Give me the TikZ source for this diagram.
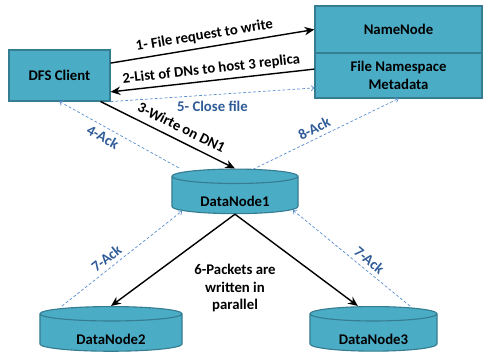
\documentclass[tikz,border=0pt]{standalone}
\usepackage{fontspec}
\setmainfont{Carlito}
\usetikzlibrary{arrows.meta}
\usetikzlibrary{shapes.geometric}
\definecolor{boxFill}{HTML}{4BACC6}
\definecolor{boxBorder}{HTML}{357D91}
\definecolor{ackLine}{HTML}{5B8FD0}
\definecolor{ackText}{HTML}{2F5C98}

\begin{document}
\begin{tikzpicture}[x = 0.025cm, y = -0.025cm, font=\bfseries\fontsize{10.5}{12.5}\selectfont]
	\tikzstyle{boxStyle}=[rectangle, draw = boxBorder, fill = boxFill, line width = 0.8pt, inner sep = 2pt]
	\tikzstyle{diskStyle}=[cylinder, shape border rotate = 90, shape aspect = 0.2, draw = boxBorder, fill = boxFill, line width = 0.8pt, inner sep = 1pt, text height = 15pt, text depth = 0pt]
	\tikzstyle{reqStyle}=[-{Stealth[length = 7pt, width = 6pt]}, line width = 1pt]
	\tikzstyle{ackStyle}=[-{To[length = 2.5pt, width = 4pt]}, dashed, dash pattern = on 2pt off 1.5pt, draw = ackLine, line width = 0.5pt]
	\tikzstyle{ackLabel}=[text = ackText, sloped, inner sep = 3pt]
	\useasboundingbox (0,0) rectangle (483,355);
	\node[boxStyle, minimum width = 2.525cm, minimum height = 1.275cm] (client) at (59.5,75.5) {DFS Client};
	\node[boxStyle, minimum width = 4.175cm, minimum height = 1.175cm] (namenode) at (398.5,29.5) {NameNode};
	\node[boxStyle, minimum width = 4.175cm, minimum height = 1.125cm, align = center] (meta) at (398.5,75.5) {File Namespace\\Metadata};
	\node[diskStyle, minimum width = 3.15cm, minimum height = 1.05cm] (dn1) at (235,196) {DataNode1};
	\node[diskStyle, minimum width = 3.55cm, minimum height = 1.025cm] (dn2) at (111,333.5) {DataNode2};
	\node[diskStyle, minimum width = 3.175cm, minimum height = 1.025cm] (dn3) at (373.5,333.5) {DataNode3};
	\draw[reqStyle] ([yshift = 0.31cm]client.east) -- node[above, sloped, inner sep = 3.5pt, pos = 0.47] {1- File request to write} (namenode.west);
	\draw[reqStyle, {Stealth[length = 7pt, width = 6pt]}-] ([yshift = -0.41cm]client.east) -- node[above, sloped, inner sep = 3pt] {2-List of DNs to host 3 replica} ([yshift = 0.16cm]meta.west);
	\draw[ackStyle] (client.south east) -- node[below, text = ackText, inner sep = 4pt] {5- Close file} ([yshift = -0.31cm]meta.west);
	\draw[reqStyle] ([xshift = -0.25cm]client.south east) -- node[above, sloped, inner sep = 5pt, pos = 0.56] {3-Wirte on DN1} (dn1.north);
	\draw[ackStyle, {To[length = 2.5pt, width = 4pt]}-] (client.south) -- node[ackLabel, below, pos = 0.4] {4-Ack} ([xshift = -1.375cm]dn1.north);
	\draw[ackStyle] ([xshift = 0.45cm, yshift = -0.02cm]dn1.north) -- node[ackLabel, above, pos = 0.45] {8-Ack} (meta.south);
	\draw[reqStyle] (dn1.south) -- (dn2.north);
	\draw[reqStyle] (dn1.south) -- ([xshift = -0.39cm]dn3.north);
	\node[align = center] (packets) at (235,288) {6-Packets are\\written in\\parallel};
	\draw[ackStyle] ([xshift = -1.225cm]dn2.north) -- node[ackLabel, above, pos = 0.42] {7-Ack} ([xshift = -1.325cm, yshift = 0.08cm]dn1.south);
	\draw[ackStyle, {To[length = 2.5pt, width = 4pt]}-] ([xshift = 1.45cm, yshift = 0.1cm]dn1.south) -- node[ackLabel, above, pos = 0.6] {7-Ack} ([xshift = 0.91cm]dn3.north);
\end{tikzpicture}
\end{document}
